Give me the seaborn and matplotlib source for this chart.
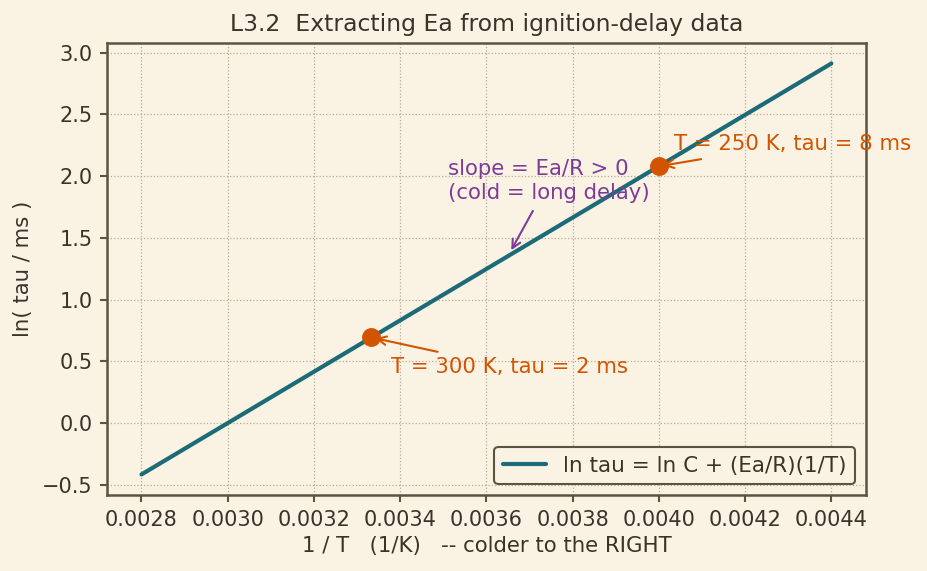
import numpy as np
import pandas as pd
import seaborn as sns
import matplotlib.pyplot as plt

# fitted line endpoints (1/T, ln tau)
inv_T = [0.0028, 0.0044]
ln_tau = [-0.416, 2.911]

# the two measured points
pt_inv_T = [1 / 300, 1 / 250]
pt_ln_tau = [0.693, 2.079]
pt_labels = ["T = 300 K, tau = 2 ms", "T = 250 K, tau = 8 ms"]

xtick_vals = [0.0028, 0.0030, 0.0032, 0.0034, 0.0036, 0.0038, 0.0040, 0.0042, 0.0044]

BG = "#faf3e3"
INK = "#3b3328"
SPINE = "#5e5240"
TEAL = "#1b6b78"
ORANGE = "#d35400"
PURPLE = "#7d3c98"

sns.set_theme(style="whitegrid", rc={
    "figure.facecolor": BG,
    "axes.facecolor": BG,
    "axes.edgecolor": SPINE,
    "axes.linewidth": 1.2,
    "grid.color": "#b5aa96",
    "grid.linestyle": ":",
    "grid.linewidth": 0.6,
    "text.color": INK,
    "axes.labelcolor": INK,
    "xtick.bottom": True,
    "ytick.left": True,
    "xtick.major.size": 3.5,
    "ytick.major.size": 3.5,
    "xtick.major.width": 1.0,
    "ytick.major.width": 1.0,
    "xtick.color": SPINE,
    "ytick.color": SPINE,
    "xtick.labelcolor": INK,
    "ytick.labelcolor": INK,
})
plt.rcParams["font.family"] = ["DejaVu Sans"]

line_df = pd.DataFrame({"x": inv_T, "y": ln_tau})
pts_df = pd.DataFrame({"x": pt_inv_T, "y": pt_ln_tau})

fig, ax = plt.subplots(figsize=(6.18, 3.807), dpi=150)
sns.lineplot(data=line_df, x="x", y="y", color=TEAL, linewidth=2.0,
             label="ln tau = ln C + (Ea/R)(1/T)", ax=ax)
sns.scatterplot(data=pts_df, x="x", y="y", color=ORANGE, s=70,
                edgecolor=ORANGE, zorder=5, ax=ax, legend=False)

ax.annotate(pt_labels[0], xy=(pt_inv_T[0], pt_ln_tau[0]), xytext=(0.003378, 0.37),
            color=ORANGE, fontsize=10.2, ha="left", va="bottom",
            arrowprops=dict(arrowstyle="->", color=ORANGE, lw=1.0))
ax.annotate(pt_labels[1], xy=(pt_inv_T[1], pt_ln_tau[1]), xytext=(0.004035, 2.18),
            color=ORANGE, fontsize=10.2, ha="left", va="bottom",
            arrowprops=dict(arrowstyle="->", color=ORANGE, lw=1.0))
ax.annotate("slope = Ea/R > 0\n(cold = long delay)", xy=(0.003653, 1.37),
            xytext=(0.003512, 1.96), color=PURPLE, fontsize=10.2,
            ha="left", va="center",
            arrowprops=dict(arrowstyle="->", color=PURPLE, lw=1.0))

ax.set_xticks(xtick_vals)
ax.set_xticklabels([f"{v:.4f}" for v in xtick_vals])
ax.tick_params(labelsize=10)
ax.set_xlabel("1 / T   (1/K)   -- colder to the RIGHT", fontsize=10.2, labelpad=3)
ax.set_ylabel("ln( tau / ms )", fontsize=10.2)
ax.set_title("L3.2  Extracting Ea from ignition-delay data", fontsize=11.25, color=INK)

leg = ax.legend(loc="lower right", fontsize=10.3, facecolor=BG, edgecolor=SPINE,
                framealpha=1)
leg.get_frame().set_linewidth(1.0)
for t in leg.get_texts():
    t.set_color(INK)

fig.subplots_adjust(left=0.1154, right=0.934, top=0.9247, bottom=0.1331)
fig.savefig("out.png", dpi=150, facecolor=BG)
